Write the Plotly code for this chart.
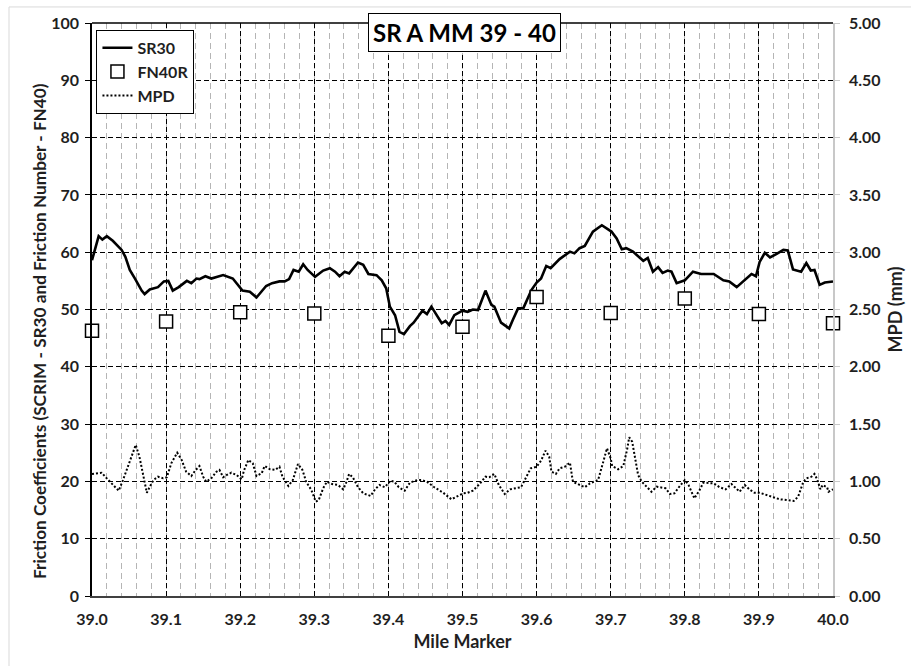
import plotly.graph_objects as go

# SR30 (SCRIM) friction coefficient along the section
sr30_mile = [
    39.000, 39.009, 39.014, 39.020, 39.028, 39.040, 39.045, 39.051, 39.058, 39.067,
    39.071, 39.078, 39.089, 39.097, 39.103, 39.109, 39.117, 39.128, 39.134, 39.141,
    39.145, 39.153, 39.161, 39.177, 39.190, 39.203, 39.213, 39.222, 39.235, 39.243,
    39.253, 39.260, 39.266, 39.272, 39.279, 39.285, 39.291, 39.301, 39.312, 39.321,
    39.328, 39.334, 39.341, 39.347, 39.359, 39.366, 39.373, 39.384, 39.391, 39.397,
    39.402, 39.409, 39.415, 39.421, 39.429, 39.434, 39.446, 39.452, 39.458, 39.472,
    39.477, 39.482, 39.489, 39.500, 39.507, 39.514, 39.521, 39.531, 39.539, 39.543,
    39.552, 39.563, 39.568, 39.575, 39.582, 39.593, 39.600, 39.606, 39.613, 39.619,
    39.631, 39.645, 39.651, 39.658, 39.665, 39.676, 39.688, 39.701, 39.708, 39.715,
    39.721, 39.730, 39.744, 39.750, 39.757, 39.764, 39.770, 39.777, 39.782, 39.789,
    39.800, 39.811, 39.822, 39.832, 39.839, 39.852, 39.860, 39.870, 39.879, 39.890,
    39.896, 39.901, 39.908, 39.915, 39.924, 39.933, 39.939, 39.946, 39.957, 39.964,
    39.970, 39.975, 39.982, 39.989, 40.000,
]
sr30 = [
    58.6, 62.8, 62.2, 62.8, 62.0, 60.4, 59.2, 56.9, 55.4, 53.3,
    52.7, 53.5, 53.9, 54.9, 55.0, 53.3, 53.9, 55.0, 54.6, 55.4,
    55.3, 55.8, 55.4, 56.0, 55.4, 53.3, 53.1, 52.1, 54.1, 54.6,
    54.9, 54.9, 55.3, 56.9, 56.6, 57.9, 56.9, 55.7, 56.8, 57.2,
    56.6, 55.8, 56.6, 56.3, 58.2, 57.8, 56.2, 56.0, 55.1, 53.7,
    50.5, 49.0, 46.1, 45.7, 47.1, 47.7, 49.8, 49.2, 50.5, 47.6,
    48.0, 47.3, 49.0, 49.8, 49.6, 50.0, 49.9, 53.3, 50.8, 50.5,
    47.7, 46.7, 48.2, 50.2, 50.2, 53.4, 54.7, 55.4, 57.6, 57.2,
    58.8, 60.1, 59.8, 60.7, 61.1, 63.6, 64.7, 63.6, 62.4, 60.5,
    60.7, 60.1, 58.5, 59.0, 56.6, 57.4, 56.4, 56.8, 56.6, 54.6,
    55.1, 56.6, 56.2, 56.2, 56.2, 55.1, 54.9, 53.9, 54.9, 56.2,
    55.8, 58.3, 59.9, 59.1, 59.7, 60.4, 60.3, 57.0, 56.6, 58.1,
    56.8, 56.9, 54.3, 54.7, 54.9,
]

# FN40R friction number, one test every 0.1 mile
fn40r_mile = [39.0, 39.1, 39.2, 39.3, 39.4, 39.5, 39.6, 39.7, 39.8, 39.9, 40.0]
fn40r = [46.3, 47.9, 49.5, 49.3, 45.4, 47.0, 52.2, 49.4, 51.9, 49.2, 47.6]

# Mean profile depth (mm), right-hand axis
mpd_mile = [
    39.000, 39.013, 39.022, 39.028, 39.036, 39.041, 39.047, 39.053, 39.059, 39.064,
    39.069, 39.074, 39.078, 39.083, 39.089, 39.096, 39.101, 39.107, 39.115, 39.121,
    39.127, 39.134, 39.140, 39.145, 39.150, 39.154, 39.161, 39.168, 39.172, 39.177,
    39.182, 39.188, 39.195, 39.202, 39.205, 39.211, 39.217, 39.222, 39.229, 39.233,
    39.240, 39.247, 39.253, 39.257, 39.265, 39.271, 39.278, 39.284, 39.289, 39.296,
    39.302, 39.306, 39.312, 39.317, 39.324, 39.332, 39.339, 39.343, 39.347, 39.352,
    39.359, 39.366, 39.376, 39.382, 39.388, 39.395, 39.403, 39.408, 39.414, 39.422,
    39.429, 39.439, 39.445, 39.452, 39.462, 39.474, 39.485, 39.492, 39.501, 39.507,
    39.514, 39.523, 39.531, 39.536, 39.543, 39.549, 39.557, 39.564, 39.573, 39.579,
    39.584, 39.592, 39.600, 39.606, 39.612, 39.617, 39.620, 39.626, 39.631, 39.638,
    39.645, 39.649, 39.658, 39.665, 39.672, 39.683, 39.690, 39.695, 39.700, 39.702,
    39.710, 39.717, 39.722, 39.725, 39.729, 39.733, 39.737, 39.742, 39.748, 39.755,
    39.762, 39.774, 39.780, 39.786, 39.792, 39.800, 39.805, 39.813, 39.820, 39.825,
    39.839, 39.847, 39.855, 39.863, 39.874, 39.881, 39.887, 39.894, 39.901, 39.910,
    39.919, 39.928, 39.937, 39.947, 39.953, 39.960, 39.964, 39.971, 39.975, 39.979,
    39.983, 39.986, 39.992, 39.994, 40.000,
]
mpd = [
    1.065, 1.076, 1.012, 0.969, 0.919, 0.997, 1.100, 1.216, 1.318, 1.216,
    1.041, 0.901, 0.954, 1.012, 1.041, 1.027, 1.036, 1.158, 1.250, 1.187,
    1.085, 1.047, 1.100, 1.134, 1.041, 0.997, 1.027, 1.085, 1.100, 1.036,
    1.056, 1.076, 1.056, 1.018, 1.093, 1.187, 1.158, 1.047, 1.071, 1.134,
    1.106, 1.100, 1.128, 1.041, 0.960, 1.012, 1.152, 1.100, 0.997, 0.925,
    0.823, 0.838, 0.940, 0.997, 0.977, 0.969, 0.931, 0.989, 1.065, 1.036,
    0.949, 0.896, 0.873, 0.931, 0.969, 0.949, 1.006, 0.997, 0.949, 0.919,
    0.989, 1.012, 1.012, 0.997, 0.949, 0.901, 0.844, 0.867, 0.896, 0.901,
    0.919, 0.977, 1.041, 1.036, 1.065, 0.969, 0.890, 0.931, 0.940, 0.949,
    1.012, 1.114, 1.128, 1.181, 1.268, 1.216, 1.085, 1.065, 1.114, 1.128,
    1.163, 0.997, 0.969, 0.949, 0.983, 1.012, 1.172, 1.289, 1.201, 1.134,
    1.106, 1.134, 1.274, 1.385, 1.346, 1.216, 1.056, 0.997, 0.954, 0.910,
    0.954, 0.940, 0.890, 0.896, 0.949, 1.012, 0.969, 0.852, 0.925, 0.989,
    0.983, 0.949, 0.931, 0.977, 0.910, 0.969, 0.931, 0.901, 0.901, 0.881,
    0.861, 0.844, 0.838, 0.829, 0.867, 0.997, 1.027, 1.041, 1.065, 1.012,
    0.931, 0.969, 0.949, 0.910, 0.931,
]

x_ticks = [39.0, 39.1, 39.2, 39.3, 39.4, 39.5, 39.6, 39.7, 39.8, 39.9, 40.0]

FONT = "Lato"
TXT = "#1f1f1f"
TICK_FONT = dict(family=FONT, size=16, color=TXT, weight="bold")
TITLE_FONT = dict(family=FONT, size=18, color=TXT, weight="bold")

fig = go.Figure()

fig.add_trace(go.Scatter(
    x=sr30_mile, y=sr30, name="SR30", mode="lines",
    line=dict(color="black", width=2.6),
))
fig.add_trace(go.Scatter(
    x=fn40r_mile, y=fn40r, name="FN40R", mode="markers",
    marker=dict(symbol="square", size=13, color="white",
                line=dict(color="black", width=1.5)),
    cliponaxis=False,
))
fig.add_trace(go.Scatter(
    x=mpd_mile, y=mpd, name="MPD", mode="lines", yaxis="y2",
    line=dict(color="black", width=2, dash="2px,2px"),
))

fig.update_layout(
    width=911, height=666,
    margin=dict(l=92, r=78, t=23, b=70, autoexpand=False),
    paper_bgcolor="white", plot_bgcolor="white",
    font=dict(family=FONT, color=TXT, size=14),
    showlegend=True,
    legend=dict(
        x=0.006, y=0.988, xanchor="left", yanchor="top",
        bgcolor="white", bordercolor="black", borderwidth=1,
        font=dict(family=FONT, size=16, color=TXT, weight="bold"),
        tracegroupgap=0, itemwidth=30,
    ),
    xaxis=dict(
        range=[39.0, 40.0], tickvals=x_ticks, tickformat=".1f",
        showgrid=True, gridcolor="black", griddash="5px,3px", gridwidth=1,
        minor=dict(dtick=0.02, tick0=39.0, showgrid=True,
                   gridcolor="#b5b5b5", griddash="6px,4px", gridwidth=1),
        showline=True, linecolor="#404040", linewidth=1.5, mirror=False,
        zeroline=False, ticks="", ticklabelstandoff=8, automargin=False,
        tickfont=TICK_FONT,
        title=dict(text="Mile Marker", standoff=8, font=TITLE_FONT),
    ),
    yaxis=dict(
        range=[0, 100], dtick=10, tick0=0,
        showgrid=True, gridcolor="black", griddash="5px,3px", gridwidth=1,
        showline=True, linecolor="black", linewidth=1.5,
        zeroline=False, ticks="outside", ticklen=5, tickcolor="black",
        ticklabelstandoff=3, tickfont=TICK_FONT, automargin=False,
    ),
    yaxis2=dict(
        range=[0, 5], dtick=0.5, tick0=0, tickformat=".2f",
        overlaying="y", side="right", showgrid=False,
        showline=True, linecolor="#c8c8c8", linewidth=1.5,
        zeroline=False, ticks="outside", ticklen=5, tickcolor="#c8c8c8",
        ticklabelstandoff=6, tickfont=TICK_FONT, automargin=False,
        title=dict(text="MPD (mm)", standoff=10, font=TITLE_FONT),
    ),
    annotations=[
        dict(
            text="<b>SR A MM 39 - 40</b>", xref="paper", yref="paper",
            x=0.503, y=0.9826, xanchor="center", yanchor="middle",
            showarrow=False, bgcolor="white", bordercolor="black",
            borderwidth=1, borderpad=4,
            font=dict(family=FONT, size=24, color="black"),
        ),
        # left axis title, centred on the whole chart height
        dict(
            text="Friction Coefficients (SCRIM - SR30 and Friction Number - FN40)",
            xref="paper", yref="paper", x=-0.0702, y=0.4625,
            xanchor="center", yanchor="middle", textangle=-90,
            showarrow=False, font=dict(TITLE_FONT, size=17.2),
        ),
    ],
    shapes=[
        # outer chart frame
        dict(type="rect", xref="paper", yref="paper",
             x0=-0.112, x1=1.2, y0=-0.2, y1=1.028,
             line=dict(color="#d9d9d9", width=1), layer="below"),
        # top border of the plot area
        dict(type="line", xref="paper", yref="paper",
             x0=0, x1=1, y0=1, y1=1, line=dict(color="black", width=1.5)),
    ],
)

fig.write_html("out.html")
